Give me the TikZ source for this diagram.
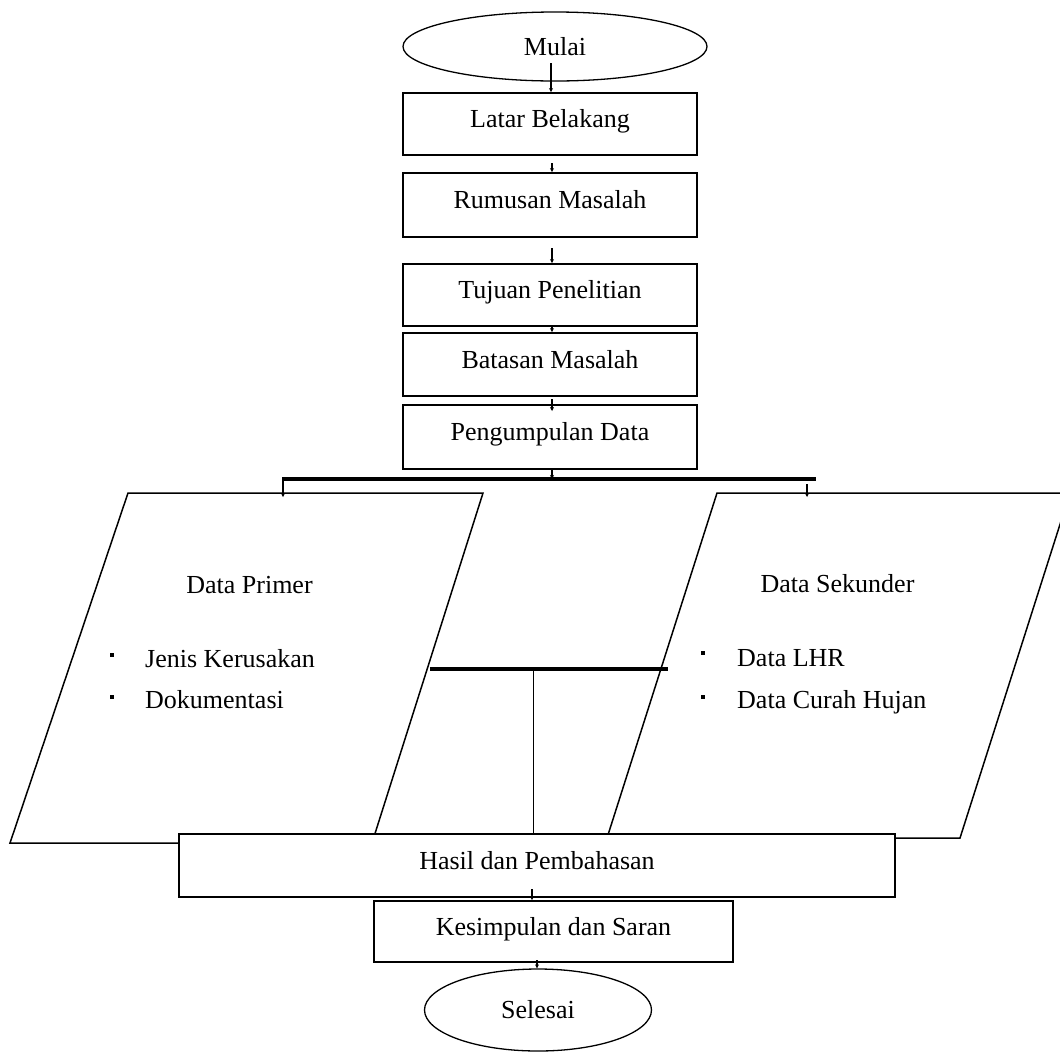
\documentclass[tikz,border=0pt]{standalone}
\usepackage{fontspec}
\setmainfont{Liberation Serif}
\usetikzlibrary{shapes.geometric,arrows.meta}
\begin{document}
\begin{tikzpicture}[x=1pt,y=-1pt,
  every node/.style={font=\fontsize{26}{30}\selectfont},
  box/.style={draw,line width=1.8pt,fill=white,rectangle,inner sep=0pt,text height=17pt,text depth=10pt},
  oval/.style={draw,line width=1.3pt,fill=white,ellipse,inner sep=0pt,text height=17pt,text depth=0pt},
  para/.style={line width=1.5pt,line join=miter},
  freetext/.style={inner sep=0pt,anchor=base west},
  ttl/.style={inner sep=0pt,anchor=base},
  bulletdot/.style={rectangle,fill=black,inner sep=0pt,minimum size=3.5pt},
  bar/.style={line width=3.5pt},
  link/.style={line width=1.2pt,-{Stealth[length=4pt,width=4pt]}},
]
\path[use as bounding box] (0,0) rectangle (1060,1053);
\clip (0,0) rectangle (1060,1053);

% parallelograms (data)
\draw[para] (128,493) -- (483,493) -- (372,843) -- (10,843) -- cycle;
\draw[para] (717,493) -- (1070,493) -- (960,838) -- (607,838) -- cycle;

% main chain
\node[oval,minimum width=304pt,minimum height=69pt] (mulai) at (555,46.5) {Mulai};
\node[box,minimum width=294pt,minimum height=62pt] (latar) at (550,124) {Latar Belakang};
\node[box,minimum width=294pt,minimum height=64pt] (rumusan) at (550,205) {Rumusan Masalah};
\node[box,minimum width=294pt,minimum height=62pt] (tujuan) at (550,295) {Tujuan Penelitian};
\node[box,minimum width=294pt,minimum height=63pt] (batasan) at (550,364.5) {Batasan Masalah};
\node[box,minimum width=294pt,minimum height=64pt] (kumpul) at (550,437) {Pengumpulan Data};
\node[box,minimum width=716pt,minimum height=63pt] (hasil) at (537,865.5) {Hasil dan Pembahasan};
\node[box,minimum width=359pt,minimum height=61pt] (simpul) at (553.5,931.5) {Kesimpulan dan Saran};
\node[oval,minimum width=227pt,minimum height=82pt] (selesai) at (538,1010) {Selesai};

% texts inside the parallelograms
\node[ttl] (dprim) at (249.5,593) {Data Primer};
\node[bulletdot] (b1) at (112,655) {};
\node[bulletdot] (b2) at (112,697) {};
\node[freetext] (jenis) at (145,667) {Jenis Kerusakan};
\node[freetext] (dok) at (145,708) {Dokumentasi};
\node[ttl] (dsek) at (837.5,592) {Data Sekunder};
\node[bulletdot] (b3) at (703,653) {};
\node[bulletdot] (b4) at (703,697) {};
\node[freetext] (lhr) at (737,666) {Data LHR};
\node[freetext] (curah) at (737,708) {Data Curah Hujan};

% coordinates
\coordinate (m0) at (551,63);
\coordinate (l0) at (552,163);
\coordinate (r0) at (552,248);
\coordinate (t0) at (552,326);
\coordinate (k0) at (552,399);
\coordinate (barA) at (282,479);
\coordinate (barB) at (816,479);
\coordinate (barM) at (552,479);
\coordinate (barL) at (283,478);
\coordinate (pL) at (283,497);
\coordinate (barR) at (807,484);
\coordinate (pR) at (807,497);
\coordinate (mL) at (430,669);
\coordinate (mR) at (668,669);
\coordinate (mC) at (533,669);
\coordinate (h0) at (532,889);
\coordinate (s0) at (537,960);

% connectors
\draw[link] (m0) -- (m0 |- latar.north);
\draw[link] (l0) -- (l0 |- rumusan.north);
\draw[link] (r0) -- (r0 |- tujuan.north);
\draw[link] (t0) -- (t0 |- batasan.north);
\draw[link] (k0) -- (552,411);
\draw[link] (552,469) -- (barM);
\draw[bar] (barA) -- (barB);
\draw[link] (barL) -- (pL);
\draw[link] (barR) -- (pR);
\draw[bar] (mL) -- (mR);
\draw[line width=1pt] (mC) -- (mC |- hasil.north);
\draw[link] (h0) -- (h0 |- simpul.north);
\draw[link] (s0) -- (s0 |- selesai.north);
\end{tikzpicture}
\end{document}
